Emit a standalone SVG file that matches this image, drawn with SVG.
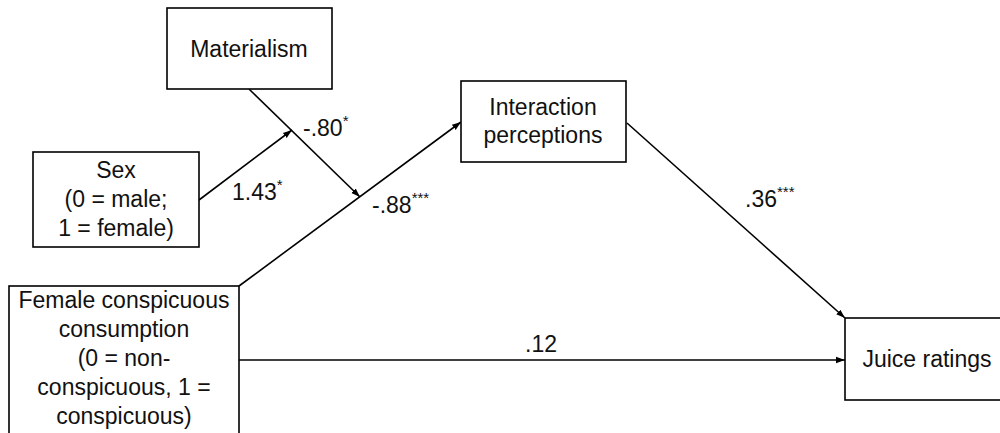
<svg xmlns="http://www.w3.org/2000/svg" width="1000" height="433" viewBox="0 0 1000 433">
  <style>
    .box { fill: #ffffff; stroke: #000000; stroke-width: 1.6; }
    .lbl { font-family: "Liberation Sans", Arial, sans-serif; font-size: 23px; fill: #111111; text-anchor: middle; }
    .coef { font-family: "Liberation Sans", Arial, sans-serif; font-size: 23px; fill: #111111; }
    .sup { font-size: 15px; }
    .edge { fill: none; stroke: #000000; stroke-width: 1.6; marker-end: url(#arrow); }
  </style>
  <defs>
    <marker id="arrow" viewBox="0 0 10 10" refX="10" refY="5" markerWidth="9" markerHeight="9" markerUnits="userSpaceOnUse" orient="auto">
      <path d="M0,1.5 L10,5 L0,8.5 z" fill="#000000"/>
    </marker>
  </defs>
  <rect width="1000" height="433" fill="#ffffff"/>

  <!-- paths between constructs -->
  <g id="connectors">
    <line class="edge" x1="199" y1="200" x2="292" y2="130"/>
    <line class="edge" x1="249" y1="89" x2="360" y2="197"/>
    <line class="edge" x1="239" y1="286" x2="461" y2="122"/>
    <line class="edge" x1="627" y1="123" x2="845" y2="318"/>
    <line class="edge" x1="239" y1="360" x2="845" y2="360"/>
  </g>

  <!-- path coefficients -->
  <g id="coefficients">
    <text class="coef" x="303" y="136">-.80<tspan class="sup" dy="-10">*</tspan></text>
    <text class="coef" x="232" y="200">1.43<tspan class="sup" dy="-10">*</tspan></text>
    <text class="coef" x="372" y="213">-.88<tspan class="sup" dy="-10">***</tspan></text>
    <text class="coef" x="745" y="207">.36<tspan class="sup" dy="-10">***</tspan></text>
    <text class="coef" x="525" y="352">.12</text>
  </g>

  <g id="materialism">
    <rect class="box" x="167" y="8" width="165" height="81"/>
    <text class="lbl" x="249" y="57">Materialism</text>
  </g>

  <g id="sex">
    <rect class="box" x="33" y="152" width="166" height="95"/>
    <text class="lbl" x="116" y="178">Sex</text>
    <text class="lbl" x="116" y="207">(0 = male;</text>
    <text class="lbl" x="116" y="236">1 = female)</text>
  </g>

  <g id="female-conspicuous">
    <rect class="box" x="9" y="286" width="230" height="160"/>
    <text class="lbl" x="124" y="308">Female conspicuous</text>
    <text class="lbl" x="124" y="337">consumption</text>
    <text class="lbl" x="124" y="366">(0 = non-</text>
    <text class="lbl" x="124" y="395">conspicuous, 1 =</text>
    <text class="lbl" x="124" y="424">conspicuous)</text>
  </g>

  <g id="interaction">
    <rect class="box" x="461" y="81" width="165" height="81"/>
    <text class="lbl" x="543" y="115">Interaction</text>
    <text class="lbl" x="543" y="143">perceptions</text>
  </g>

  <g id="juice">
    <rect class="box" x="845" y="318" width="170" height="82"/>
    <text class="lbl" x="927" y="367">Juice ratings</text>
  </g>
</svg>
